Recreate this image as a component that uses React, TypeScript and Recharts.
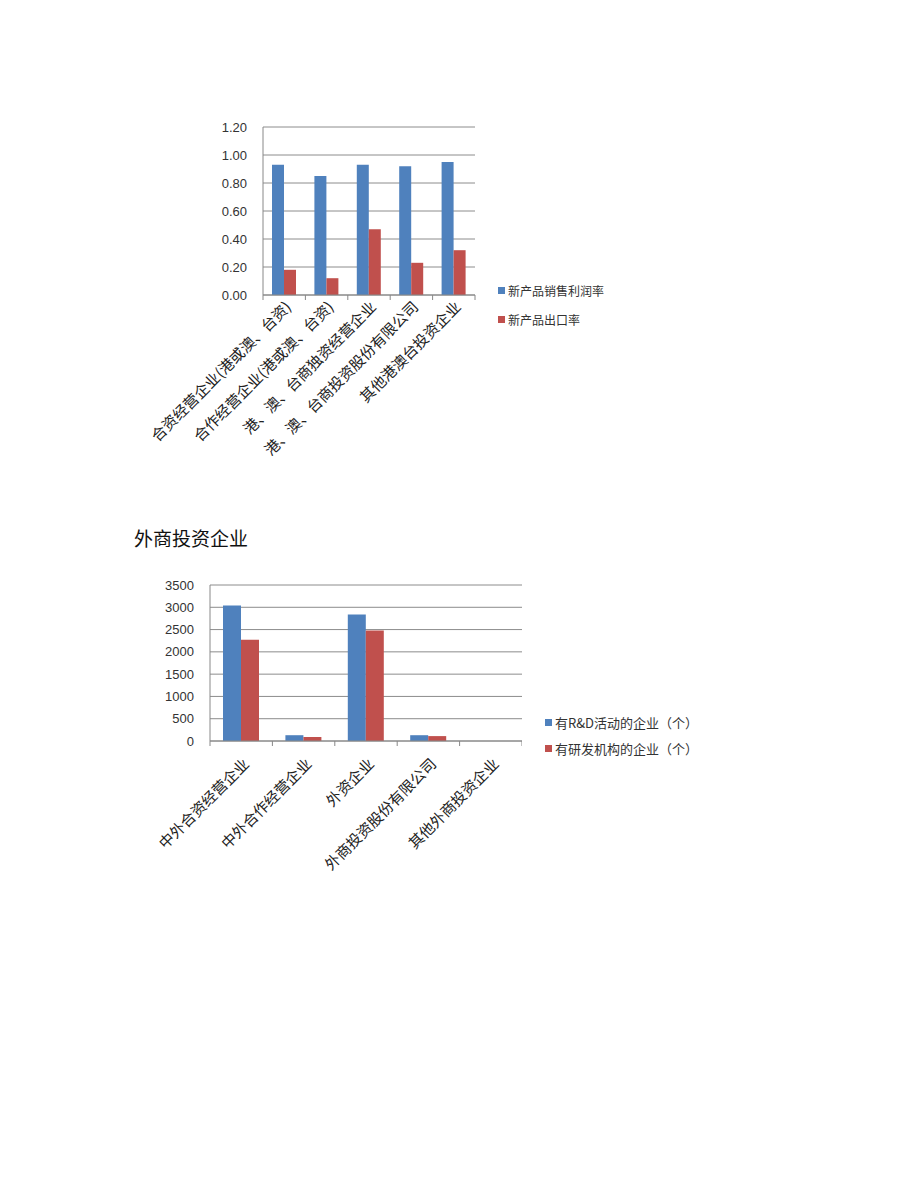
import { BarChart, Bar, XAxis, YAxis, CartesianGrid } from "recharts";

// chart 1: 港澳台投资企业
const hkCategories = [
  "合资经营企业(港或澳、台资)",
  "合作经营企业(港或澳、台资)",
  "港、澳、台商独资经营企业",
  "港、澳、台商投资股份有限公司",
  "其他港澳台投资企业",
];
const hkProfitRate = [0.93, 0.85, 0.93, 0.92, 0.95];
const hkExportRate = [0.18, 0.12, 0.47, 0.23, 0.32];
const hkTicks = [0, 0.2, 0.4, 0.6, 0.8, 1.0, 1.2];
const hkSeries = ["新产品销售利润率", "新产品出口率"];

// chart 2: 外商投资企业
const fdCategories = [
  "中外合资经营企业",
  "中外合作经营企业",
  "外资企业",
  "外商投资股份有限公司",
  "其他外商投资企业",
];
const fdWithRD = [3040, 130, 2840, 130, 0];
const fdWithLab = [2270, 90, 2480, 110, 0];
const fdTicks = [0, 500, 1000, 1500, 2000, 2500, 3000, 3500];
const fdSeries = ["有R&D活动的企业（个）", "有研发机构的企业（个）"];

const BLUE = "#4F81BD";
const RED = "#C0504D";
const CJK = '"Noto Sans CJK SC", "Noto Sans", sans-serif';

const hkData = hkCategories.map((name, i) => ({
  name,
  a: hkProfitRate[i],
  b: hkExportRate[i],
}));
const fdData = fdCategories.map((name, i) => ({
  name,
  a: fdWithRD[i],
  b: fdWithLab[i],
}));

function CatTick(props: any) {
  const { x, y, payload, index, band, fontSize, dx, dy, count } = props;
  return (
    <g>
      <line x1={x - band / 2} y1={y} x2={x - band / 2} y2={y + 5} stroke="#888" />
      {index === count - 1 && (
        <line x1={x + band / 2} y1={y} x2={x + band / 2} y2={y + 5} stroke="#888" />
      )}
      <text
        x={x + dx}
        y={y + dy}
        textAnchor="end"
        transform={`rotate(-45 ${x + dx} ${y + dy})`}
        fontSize={fontSize}
        fontFamily={CJK}
        fill="#222"
      >
        {payload.value}
      </text>
    </g>
  );
}

function SideLegend({ names, fontSize, gap, left, top }: any) {
  return (
    <div style={{ position: "absolute", left, top, fontFamily: CJK, fontSize, color: "#333" }}>
      {names.map((n: string, i: number) => (
        <div key={n} style={{ display: "flex", alignItems: "center", height: gap, whiteSpace: "nowrap" }}>
          <span
            style={{
              display: "inline-block",
              width: 7,
              height: 7,
              background: i === 0 ? BLUE : RED,
              marginRight: 3,
            }}
          />
          {n}
        </div>
      ))}
    </div>
  );
}

export default function App() {
  // chart 1 layout
  const c1 = { w: 360, h: 370, top: 17, right: 5, yw: 143 };
  const band1 = (c1.w - c1.right - c1.yw) / hkCategories.length;
  // chart 2 layout
  const c2 = { w: 392, h: 311, top: 15, right: 0, yw: 80 };
  const band2 = (c2.w - c2.right - c2.yw) / fdCategories.length;

  return (
    <div style={{ position: "absolute", left: 0, top: 0, width: 920, height: 1192, background: "#fff" }}>
      <div style={{ position: "absolute", left: 120, top: 110 }}>
        <BarChart
          width={c1.w}
          height={c1.h}
          data={hkData}
          margin={{ top: c1.top, right: c1.right, left: 0, bottom: 0 }}
          barSize={12}
          barGap={0}
          style={{ overflow: "visible" }}
        >
          <CartesianGrid vertical={false} stroke="#8c8c8c" />
          <XAxis
            dataKey="name"
            height={c1.h - c1.top - 168}
            interval={0}
            stroke="#888"
            tickLine={false}
            tickSize={0}
            tickMargin={0}
            tick={(p: any) => (
              <CatTick {...p} band={band1} fontSize={15} dx={8} dy={13} count={hkCategories.length} />
            )}
          />
          <YAxis
            width={c1.yw}
            domain={[0, 1.2]}
            ticks={hkTicks}
            interval={0}
            tickFormatter={(v: number) => v.toFixed(2)}
            stroke="#888"
            tickLine={false}
            tickMargin={10}
            tick={{ fill: "#333", fontSize: 13, fontFamily: "Liberation Sans" }}
          />
          <Bar dataKey="a" name={hkSeries[0]} fill={BLUE} isAnimationActive={false} />
          <Bar dataKey="b" name={hkSeries[1]} fill={RED} isAnimationActive={false} />
        </BarChart>
      </div>
      <SideLegend names={hkSeries} fontSize={12} gap={29} left={498} top={276} />

      <div
        style={{
          position: "absolute",
          left: 134,
          top: 524,
          fontFamily: CJK,
          fontSize: 19,
          color: "#111",
        }}
      >
        外商投资企业
      </div>

      <div style={{ position: "absolute", left: 130, top: 570 }}>
        <BarChart
          width={c2.w}
          height={c2.h}
          data={fdData}
          margin={{ top: c2.top, right: c2.right, left: 0, bottom: 0 }}
          barSize={18}
          barGap={0}
          style={{ overflow: "visible" }}
        >
          <CartesianGrid vertical={false} stroke="#8c8c8c" />
          <XAxis
            dataKey="name"
            height={c2.h - c2.top - 156}
            interval={0}
            stroke="#888"
            tickLine={false}
            tickSize={0}
            tickMargin={0}
            tick={(p: any) => (
              <CatTick {...p} band={band2} fontSize={15} dx={9} dy={24} count={fdCategories.length} />
            )}
          />
          <YAxis
            width={c2.yw}
            domain={[0, 3500]}
            ticks={fdTicks}
            interval={0}
            stroke="#888"
            tickLine={false}
            tickMargin={10}
            tick={{ fill: "#333", fontSize: 13, fontFamily: "Liberation Sans" }}
          />
          <Bar dataKey="a" name={fdSeries[0]} fill={BLUE} isAnimationActive={false} />
          <Bar dataKey="b" name={fdSeries[1]} fill={RED} isAnimationActive={false} />
        </BarChart>
      </div>
      <SideLegend names={fdSeries} fontSize={13} gap={26} left={545} top={709} />
    </div>
  );
}
